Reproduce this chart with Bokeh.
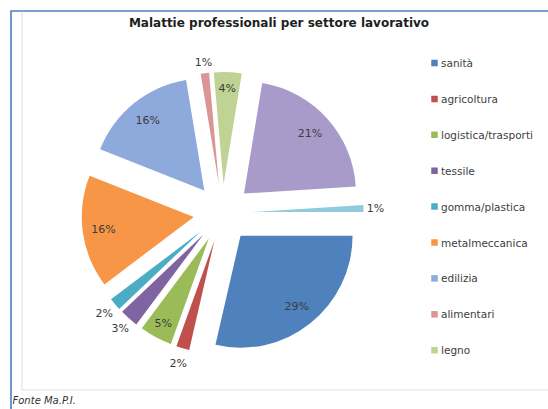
import numpy as np
from bokeh.plotting import figure
from bokeh.models import Range1d, ColumnDataSource
from bokeh.embed import file_html
from bokeh.resources import INLINE
from bokeh.core.properties import value

# ---------------- data ----------------
title_text = "Malattie professionali per settore lavorativo"
source_text = "Fonte Ma.P.I."
legend_labels = ["sanità", "agricoltura", "logistica/trasporti", "tessile",
                 "gomma/plastica", "metalmeccanica", "edilizia", "alimentari", "legno"]
# slice shares (%), clockwise from 3 o'clock
slice_values = [28.6, 1.9, 4.7, 2.7, 1.8, 16.3, 16.4, 1.2, 4.0, 21.4, 1.0]
slice_labels = ["29%", "2%", "5%", "3%", "2%", "16%", "16%", "1%", "4%", "21%", "1%"]
slice_colors = ["#4F81BD", "#C0504D", "#9BBB59", "#8064A2", "#4BACC6", "#F79646",
                "#8EA9DB", "#D99694", "#BFD494", "#A99BC9", "#8FCBDD"]

# ---------------- layout (styling) ----------------
W, H = 548, 409
def X(sx): return sx
def Y(sy): return H - sy

CX, CY = X(222), Y(212.5)
R = 112
EXPLODE = 29
label_r = [90, 128, 96, 125, 126, 91, 90, 123, 96, 89, 124]

vals = np.array(slice_values, dtype=float)
frac = vals / vals.sum()
cum_end = np.cumsum(frac)
cum_start = cum_end - frac
start = -cum_end * 2 * np.pi
end = -cum_start * 2 * np.pi
mid = (start + end) / 2
px = CX + EXPLODE * np.cos(mid)
py = CY + EXPLODE * np.sin(mid)

src = ColumnDataSource(dict(x=px, y=py, start=start, end=end, color=slice_colors))

p = figure(width=W, height=H, x_range=Range1d(0, W), y_range=Range1d(0, H),
           output_backend="svg", toolbar_location=None, min_border=0,
           x_axis_type=None, y_axis_type=None)
p.grid.visible = False
p.outline_line_color = None
p.background_fill_color = "white"
p.border_fill_color = "white"

# frames
p.segment(x0=[X(10.5), X(10)], y0=[Y(10.5), Y(10.5)], x1=[X(10.5), X(560)], y1=[Y(420), Y(10.5)],
          line_color="#4A7DC2", line_width=1.6)
p.segment(x0=[X(21.5), X(21)], y0=[Y(11), Y(389.5)], x1=[X(21.5), X(560)], y1=[Y(389.5), Y(389.5)],
          line_color="#E2E2E2", line_width=1.2)

p.wedge(x="x", y="y", radius=R, start_angle="start", end_angle="end",
        fill_color="color", line_color=None, source=src)

lr = np.array(label_r, dtype=float)
lx = px + lr * np.cos(mid)
ly = py + lr * np.sin(mid)
p.text(x=lx, y=ly, text=slice_labels, text_align="center", text_baseline="middle",
       text_font=value("DejaVu Sans"), text_font_size="11px", text_color="#3C3C3C")

# title
p.text(x=[X(278.5)], y=[Y(22)], text=[title_text], text_align="center", text_baseline="middle",
       text_font=value("DejaVu Sans"), text_font_style="bold", text_font_size="12px",
       text_color="#1E1E1E")

# legend
n = len(legend_labels)
leg_y = [Y(62.5 + 35.9 * i) for i in range(n)]
p.scatter(x=[X(434)] * n, y=leg_y, marker="square", size=6.5,
          fill_color=slice_colors[:n], line_color=None)
p.text(x=[X(440.5)] * n, y=leg_y, text=legend_labels, text_align="left", text_baseline="middle",
       text_font=value("DejaVu Sans"), text_font_size="10.5px", text_color="#404040")

# source note
p.text(x=[X(12)], y=[Y(400)], text=[source_text], text_align="left", text_baseline="middle",
       text_font=value("DejaVu Sans"), text_font_style="italic", text_font_size="10px",
       text_color="#333333")

open("out.html", "w").write(file_html(p, INLINE))
